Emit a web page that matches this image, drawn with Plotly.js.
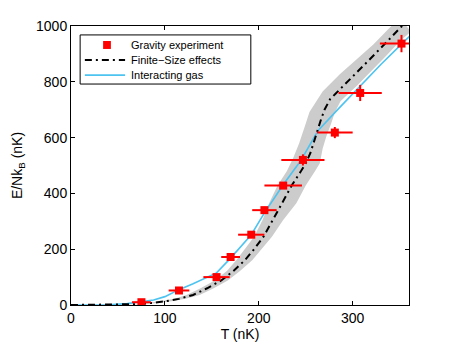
<!DOCTYPE html>
<html>
<head>
<meta charset="utf-8">
<script src="https://cdn.plot.ly/plotly-3.0.1.min.js"></script>
<style>
  html, body { margin: 0; padding: 0; background: #fff; }
  #chart { width: 452px; height: 349px; }
</style>
</head>
<body>
<div id="chart"></div>
<script>
// measured points (gravity experiment)
var expT = [75, 115, 155, 170, 192, 206, 226, 247, 281, 308, 352];
var expE = [10, 52, 100, 172, 252, 340, 428, 520, 618, 760, 937];
var expTerr = [10, 11, 14, 10, 14, 13, 20, 23, 19, 23, 23];
var expEerr = [8, 8, 8, 10, 10, 12, 12, 20, 20, 29, 31];

// finite-size effects curve
var fsT = [0, 50, 70, 85, 100, 115, 130, 145, 160, 173, 185, 195, 205, 215, 225, 235, 245, 250, 255, 260, 266, 270, 276, 282, 300, 318, 336, 350, 360];
var fsE = [0, 1, 3, 7, 13, 22, 36, 60, 88, 122, 160, 200, 245, 305, 365, 428, 480, 508, 545, 600, 662, 700, 738, 758, 818, 880, 942, 992, 1026];

// uncertainty band around it
var bandUpT = [0, 45, 65, 80, 95, 110, 123, 138, 153, 166, 176, 185, 195, 204, 211, 220, 230, 237, 243, 249, 254, 268, 286, 304, 322, 336, 350];
var bandUpE = [0, 1, 3, 7, 13, 22, 36, 60, 88, 122, 160, 200, 245, 305, 365, 428, 480, 530, 580, 640, 692, 765, 826, 880, 934, 982, 1030];
var bandLoT = [0, 57, 77, 92, 107, 122, 137, 152, 167, 180, 193, 203, 214, 226, 240, 250, 260, 265, 268, 272, 277, 281, 287, 304, 318, 336, 350, 362];
var bandLoE = [0, 1, 3, 7, 13, 22, 36, 60, 88, 122, 160, 200, 245, 305, 365, 428, 480, 508, 560, 605, 650, 690, 730, 784, 832, 894, 944, 980];

// interacting gas curve
var igT = [0, 40, 60, 75, 88, 100, 115, 130, 155, 170, 192, 206, 226, 245, 263, 285, 307, 330, 352, 362];
var igE = [0, 1, 5, 11, 18, 30, 55, 76, 115, 168, 252, 330, 431, 519, 625, 704, 783, 862, 935, 968];

var legendLabels = ['Gravity experiment', 'Finite\u2212Size effects', 'Interacting gas'];

var red = 'rgb(255,0,0)';
var cyan = 'rgb(77,195,240)';
var dashDot = '7px,4px,2px,4px';

var bandX = bandUpT.concat(bandLoT.slice().reverse());
var bandY = bandUpE.concat(bandLoE.slice().reverse());

var band = {
  x: bandX, y: bandY,
  type: 'scatter', mode: 'lines',
  fill: 'toself', fillcolor: 'rgb(204,204,204)',
  line: {width: 0, color: 'rgba(0,0,0,0)'},
  showlegend: false, hoverinfo: 'skip'
};

var gas = {
  x: igT, y: igE,
  type: 'scatter', mode: 'lines',
  name: legendLabels[2],
  line: {color: cyan, width: 1.6},
  showlegend: false
};

var finite = {
  x: fsT, y: fsE,
  type: 'scatter', mode: 'lines',
  name: legendLabels[1],
  line: {color: 'black', width: 2, dash: dashDot},
  showlegend: false
};

var gravity = {
  x: expT, y: expE,
  type: 'scatter', mode: 'markers',
  name: legendLabels[0],
  marker: {symbol: 'square', size: 8, color: red},
  error_x: {type: 'data', array: expTerr, color: red, thickness: 2, width: 0},
  error_y: {type: 'data', array: expEerr, color: red, thickness: 2, width: 0},
  showlegend: false
};

var data = [band, gas, finite, gravity];

var axisFont = {family: 'Liberation Sans, Arial, sans-serif', size: 14, color: 'black'};
var legFont = {family: 'Liberation Sans, Arial, sans-serif', size: 11, color: 'black'};

// MATLAB-style legend box, drawn in paper coordinates
var rowY = [0.932, 0.878, 0.824];
var shapes = [
  {type: 'rect', xref: 'paper', yref: 'paper', x0: 0.027, x1: 0.532, y0: 0.792, y1: 0.968,
   line: {color: 'black', width: 1}, fillcolor: 'white', layer: 'above'},
  {type: 'rect', xref: 'paper', yref: 'paper', x0: 0.095, x1: 0.118, y0: rowY[0] - 0.0143, y1: rowY[0] + 0.0143,
   line: {width: 0}, fillcolor: red, layer: 'above'},
  {type: 'line', xref: 'paper', yref: 'paper', x0: 0.041, x1: 0.160, y0: rowY[1], y1: rowY[1],
   line: {color: 'black', width: 2, dash: dashDot}, layer: 'above'},
  {type: 'line', xref: 'paper', yref: 'paper', x0: 0.041, x1: 0.160, y0: rowY[2], y1: rowY[2],
   line: {color: cyan, width: 1.6}, layer: 'above'}
];
var annotations = legendLabels.map(function(t, i) {
  return {text: t, xref: 'paper', yref: 'paper', x: 0.172, y: rowY[i],
          xanchor: 'left', yanchor: 'middle', showarrow: false, font: legFont};
});

var layout = {
  width: 452, height: 349,
  margin: {l: 71, r: 43, t: 26, b: 44},
  paper_bgcolor: 'white', plot_bgcolor: 'white',
  font: axisFont,
  showlegend: false,
  shapes: shapes,
  annotations: annotations,
  xaxis: {
    range: [0, 360], tickvals: [0, 100, 200, 300],
    showline: true, linecolor: 'black', linewidth: 1, mirror: 'ticks',
    ticks: 'inside', ticklen: 4, tickcolor: 'black',
    showgrid: false, zeroline: false,
    tickfont: axisFont,
    title: {text: 'T (nK)', font: axisFont, standoff: 4}
  },
  yaxis: {
    range: [0, 1000], tickvals: [0, 200, 400, 600, 800, 1000],
    showline: true, linecolor: 'black', linewidth: 1, mirror: 'ticks',
    ticks: 'inside', ticklen: 4, tickcolor: 'black',
    showgrid: false, zeroline: false,
    tickfont: axisFont,
    title: {text: 'E/Nk<sub>B</sub> (nK)', font: axisFont, standoff: 10}
  }
};

Plotly.newPlot('chart', data, layout, {displayModeBar: false, staticPlot: true});
</script>
</body>
</html>
